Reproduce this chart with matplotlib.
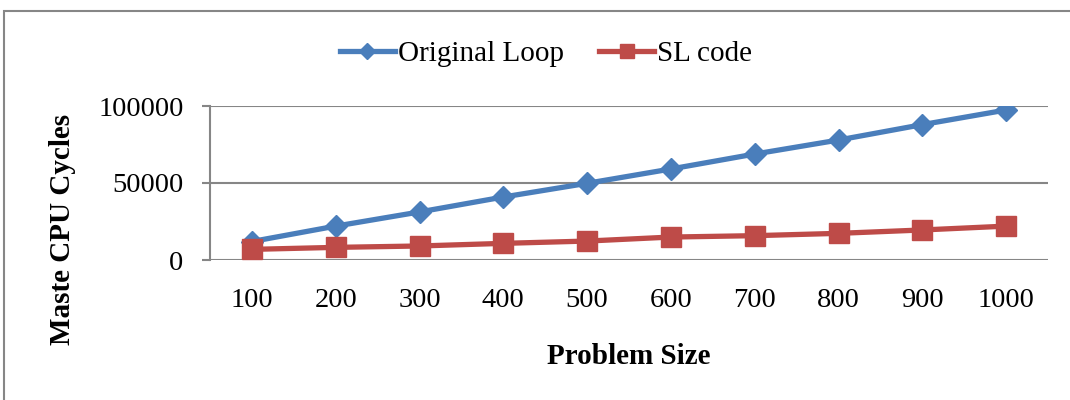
import matplotlib
matplotlib.use("Agg")
import matplotlib.pyplot as plt
from matplotlib.patches import Rectangle

sizes = ["100", "200", "300", "400", "500", "600", "700", "800", "900", "1000"]
original_loop = [12000, 22000, 31200, 40900, 49800, 59100, 68800, 77900, 87900, 97400]
sl_code = [6900, 8200, 9100, 10800, 12300, 14900, 15800, 17300, 19500, 22000]
yticks = [0, 50000, 100000]

plt.rcParams["font.family"] = ["Liberation Serif", "DejaVu Serif"]

blue = "#4A7EBB"
red = "#BE4B48"
grey = "#868686"

fig = plt.figure(figsize=(10.7, 4.0), dpi=100)
# chart-area border (clipped on the right and bottom like the original)
fig.patches.append(Rectangle((4 / 1070, -0.1), 1.2, 1.1 - 11 / 400,
                             transform=fig.transFigure, fill=False,
                             edgecolor=grey, linewidth=1.5))

ax = fig.add_axes([210 / 1070, 140 / 400, 838 / 1070, 154 / 400])
x = list(range(1, len(sizes) + 1))
ax.plot(x, original_loop, color=blue, lw=3.8, marker="D", ms=11,
        label="Original Loop", zorder=3)
ax.plot(x, sl_code, color=red, lw=3.8, marker="s", ms=14,
        label="SL code", zorder=4)

ax.set_xlim(0.5, len(sizes) + 0.5)
ax.set_ylim(0, 100000)
ax.set_xticks(x)
ax.set_xticklabels(sizes)
ax.set_yticks(yticks)
ax.yaxis.grid(True, color=grey, lw=1.5)
ax.set_axisbelow(True)
for s in ["top", "right", "bottom"]:
    ax.spines[s].set_visible(False)
ax.spines["left"].set_color(grey)
ax.spines["left"].set_linewidth(1.5)
ax.tick_params(axis="y", length=6, width=1.5, color=grey, pad=13, labelsize=20.5)
ax.tick_params(axis="x", length=0, pad=20, labelsize=20.5)

fig.text(629 / 1070, 1 - 356 / 400, "Problem Size", ha="center", va="center",
         fontsize=21, fontweight="bold")
fig.text(62 / 1070, 1 - 229 / 400, "Maste CPU Cycles", ha="center", va="center",
         rotation=90, fontsize=21, fontweight="bold")

ax.legend(loc="center", bbox_to_anchor=(546 / 1070, 1 - 54 / 400),
          bbox_transform=fig.transFigure, ncol=2, frameon=False, fontsize=21,
          handlelength=1.9, handletextpad=0.1, columnspacing=1.2,
          markerscale=0.7)

fig.savefig("out.png", dpi=100)
